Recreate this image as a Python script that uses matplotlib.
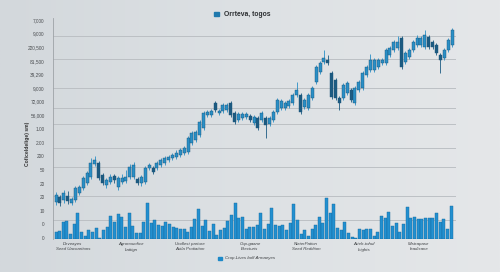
import matplotlib
matplotlib.use("Agg")
import matplotlib.pyplot as plt
import numpy as np

plt.rcParams["font.family"] = ["Liberation Sans", "DejaVu Sans"]

# candle data (arbitrary units)
opens = [38, 43, 40, 44, 37, 40, 47, 52, 57, 63, 76, 77, 65, 55, 58, 64, 53, 58, 59, 63,
         63, 61, 57, 58, 72, 72, 72, 75, 77, 80, 82, 83, 85, 87, 88, 97, 100, 105, 112, 125,
         125, 137, 127, 129, 130, 137, 127, 120, 122, 123, 124, 117, 122, 120, 122, 116, 120, 128, 132, 132,
         134, 137, 145, 145, 133, 132, 142, 158, 168, 178, 180, 167, 160, 142, 142, 147, 150, 137, 150, 152,
         165, 170, 170, 173, 177, 177, 185, 190, 192, 202, 178, 183, 190, 195, 195, 193, 203, 198, 195, 185,
         182, 190, 195]
closes = [45, 37, 47, 39, 41, 52, 53, 62, 67, 77, 80, 62, 57, 60, 63, 60, 62, 62, 63, 73,
          75, 57, 63, 72, 75, 68, 77, 80, 82, 83, 85, 87, 90, 92, 102, 107, 108, 118, 127, 128,
          129, 130, 129, 135, 135, 125, 118, 126, 126, 126, 120, 123, 112, 127, 115, 122, 128, 140, 139, 137,
          139, 145, 150, 128, 140, 145, 152, 173, 177, 182, 177, 143, 142, 137, 155, 157, 140, 152, 158, 167,
          173, 180, 180, 180, 180, 190, 192, 198, 198, 173, 187, 190, 198, 202, 202, 205, 193, 193, 187, 180,
          190, 200, 210]
highs = [48, 45, 50, 49, 43, 54, 55, 64, 69, 82, 84, 79, 67, 62, 66, 66, 64, 66, 70, 76,
         78, 63, 65, 74, 77, 74, 79, 82, 84, 85, 87, 90, 92, 94, 104, 109, 110, 120, 129, 130,
         131, 139, 131, 137, 137, 139, 129, 128, 128, 128, 126, 125, 124, 129, 124, 124, 130, 142, 141, 139,
         141, 147, 158, 147, 142, 147, 154, 175, 179, 190, 185, 169, 162, 144, 157, 159, 152, 154, 160, 169,
         175, 186, 182, 182, 182, 192, 194, 200, 204, 204, 189, 192, 200, 205, 204, 210, 205, 200, 197, 187,
         192, 202, 212]
lows = [35, 34, 37, 36, 35, 38, 45, 50, 55, 61, 74, 60, 55, 52, 56, 57, 50, 56, 57, 61,
        61, 55, 54, 56, 70, 66, 70, 73, 75, 78, 80, 81, 83, 85, 86, 95, 98, 103, 110, 123,
        123, 128, 125, 127, 128, 123, 116, 118, 120, 121, 118, 115, 110, 118, 102, 114, 118, 126, 130, 130,
        132, 135, 143, 126, 131, 130, 140, 156, 166, 176, 175, 141, 140, 130, 140, 145, 138, 135, 148, 150,
        163, 168, 168, 171, 175, 175, 183, 188, 190, 171, 176, 181, 188, 193, 193, 191, 191, 191, 185, 167,
        180, 188, 193]

# bottom bars
bar_values = [7, 8, 17, 18, 5, 15, 26, 7, 3, 9, 7, 11, 1, 9, 12, 23, 17, 25, 22, 12,
              26, 13, 6, 6, 17, 36, 16, 19, 14, 13, 17, 15, 12, 11, 10, 10, 7, 12, 20, 30,
              13, 19, 8, 15, 4, 9, 11, 18, 24, 36, 21, 22, 10, 12, 12, 14, 26, 10, 15, 31,
              14, 13, 14, 9, 16, 35, 19, 5, 9, 3, 10, 14, 22, 16, 41, 26, 35, 11, 9, 17,
              6, 2, 1, 10, 9, 10, 10, 3, 7, 23, 21, 27, 13, 16, 7, 15, 32, 21, 22, 20,
              20, 21, 21, 21, 26, 17, 20, 10, 33]

ytick_labels = ["0", "0", "10", "20", "20", "50", "200", "2.00", "1.00", "56,000",
                "72,000", "9,000", "39,290", "81,500", "220,500", "9,000", "7,000"]
grid_levels = [20, 44, 73, 92, 116, 132, 152, 181, 204]

cat_labels = ["Deveayes\nSeed Uacoartions", "Agronouofice\nLattign", "Undlest parture\nAstla Protiation",
              "Cop-gaane\nBrecturis", "NieterPation\nSeed Reddtion", "Artelr-tohuf\nIcights",
              "Mistrapase\nIeadisane"]
cat_pos = [73, 131, 190, 250, 306, 364, 419]

fig = plt.figure(figsize=(5, 2.72), dpi=100)

# soft grey background gradient
bg = fig.add_axes([0, 0, 1, 1], zorder=-1)
grad = np.linspace(0, 1, 256)[None, :]
bg.imshow(grad, aspect="auto", cmap=matplotlib.colors.LinearSegmentedColormap.from_list(
    "bg", ["#d3d8dc", "#dde1e4", "#e5e7e9"]), extent=[0, 1, 0, 1])
bg.axis("off")

ax = fig.add_axes([53 / 500, 1 - 239 / 272, 403 / 500, 221 / 272])
ax.set_facecolor("none")
ax.set_xlim(53, 456)
ax.set_ylim(1, 222)

n = len(opens)
xs = np.linspace(56, 452, n)
up_col, down_col = "#2a8fc6", "#1c5b82"
for x, o, c, h, l in zip(xs, opens, closes, highs, lows):
    col = up_col if c >= o else down_col
    ax.vlines(x, l, h, color=col, linewidth=0.6, zorder=3)
    ax.bar(x, max(abs(c - o), 1.5), bottom=min(o, c), width=3.0,
           color=col, edgecolor="#1a5378", linewidth=0.3, zorder=4)

bx = np.linspace(56, 451, len(bar_values))
ax.bar(bx, bar_values, bottom=1, width=3.0, color="#2290d0",
       edgecolor="#17699c", linewidth=0.3, zorder=3)

for g in grid_levels:
    ax.axhline(g, color="#bcc0c4", linewidth=0.7, zorder=1)
ax.axhline(1.4, color="#aeb2b6", linewidth=0.8, zorder=1)

ax.set_yticks(np.linspace(2, 220, 17))
ax.set_yticklabels(ytick_labels, fontsize=3.4, color="#4a4d50")
ax.tick_params(axis="y", length=0, pad=6)
ax.set_xticks([])
for s in ["top", "right", "bottom"]:
    ax.spines[s].set_visible(False)
ax.spines["left"].set_color("#9ea3a7")
ax.spines["left"].set_linewidth(0.6)

ax.set_ylabel("Coficeldelige) sm)", fontsize=3.6, color="#333", fontweight="bold", labelpad=4)
ax.yaxis.set_label_coords(-0.058, 0.43)

for p, lab in zip(cat_pos, cat_labels):
    ax.text(p, -2, lab, ha="center", va="top", fontsize=3.2, style="italic",
            color="#3c3f42", linespacing=1.5)

# top legend / title
fig.patches.append(plt.Rectangle((214 / 500, 1 - 16 / 272), 5 / 500, 4 / 272,
                                 transform=fig.transFigure, color="#1f79ad"))
fig.text(224 / 500, 1 - 14 / 272, "Orrteva, togos", fontsize=4.9, fontweight="bold",
         color="#2b2e31", va="center")

# bottom legend
fig.patches.append(plt.Rectangle((218 / 500, 1 - 259.5 / 272), 4 / 500, 3 / 272,
                                 transform=fig.transFigure, color="#1d89c8"))
fig.text(225 / 500, 1 - 258 / 272, "Crop-Lives bolf Armaeyes", fontsize=3.2, style="italic",
         color="#3c3f42", va="center")

fig.savefig("out.png", dpi=100)
